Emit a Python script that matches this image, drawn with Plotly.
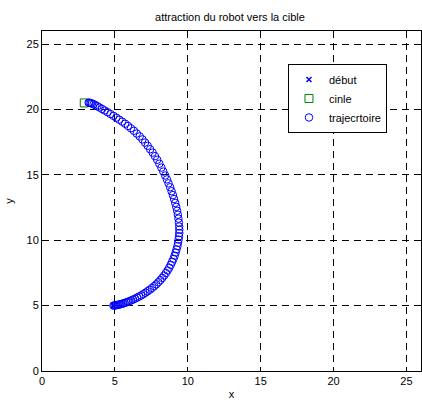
import plotly.graph_objects as go

# Robot start, target and the path it follows toward the target
start_x = [4.9]
start_y = [5.0]

target_x = [2.9]
target_y = [20.5]

traj_x = [4.9, 4.97, 5.05, 5.12, 5.2, 5.28, 5.37, 5.46, 5.56, 5.66, 5.77, 5.88,
          6.0, 6.12, 6.25, 6.38, 6.52, 6.66, 6.8, 6.95, 7.1, 7.25, 7.4, 7.55,
          7.7, 7.84, 7.98, 8.12, 8.25, 8.38, 8.5, 8.62, 8.73, 8.83, 8.93, 9.02,
          9.1, 9.17, 9.23, 9.29, 9.33, 9.37, 9.4, 9.42, 9.42,
          9.41, 9.39, 9.36, 9.32, 9.27, 9.21, 9.14, 9.06, 8.98, 8.89, 8.79, 8.68,
          8.57, 8.45, 8.32, 8.19, 8.05, 7.9, 7.75, 7.59, 7.42, 7.25, 7.07, 6.89,
          6.7, 6.5, 6.3, 6.1, 5.9, 5.7, 5.5, 5.3, 5.1, 4.9, 4.7, 4.5, 4.3, 4.12,
          3.95, 3.8, 3.66, 3.54, 3.43, 3.34, 3.26, 3.2]
traj_y = [5.0, 5.01, 5.02, 5.04, 5.06, 5.08, 5.1, 5.13, 5.16, 5.2, 5.24, 5.29,
          5.34, 5.4, 5.46, 5.53, 5.61, 5.69, 5.78, 5.88, 5.99, 6.1, 6.22, 6.35,
          6.49, 6.63, 6.79, 6.95, 7.12, 7.3, 7.49, 7.69, 7.9, 8.12, 8.35, 8.58,
          8.82, 9.06, 9.3, 9.55, 9.8, 10.05, 10.3, 10.55, 10.8,
          11.05, 11.35, 11.65, 11.95, 12.25, 12.55, 12.85, 13.15, 13.45, 13.75,
          14.05, 14.35, 14.65, 14.95, 15.25, 15.55, 15.85, 16.15, 16.43, 16.7,
          16.96, 17.22, 17.47, 17.71, 17.94, 18.16, 18.37, 18.56, 18.74, 18.91,
          19.07, 19.22, 19.37, 19.51, 19.65, 19.79, 19.92, 20.04, 20.15, 20.25,
          20.33, 20.4, 20.45, 20.49, 20.51, 20.52]

tick_vals = [0, 5, 10, 15, 20, 25]
tick_text = ["0", "5", "10", "15", "20", "25"]

FONT = "Liberation Sans, Arial, sans-serif"

fig = go.Figure()
fig.add_trace(go.Scatter(
    x=start_x, y=start_y, mode="markers", name="début",
    marker=dict(symbol="x-thin", size=5, line=dict(color="#0000ff", width=1.5),
                color="#0000ff"),
))
fig.add_trace(go.Scatter(
    x=target_x, y=target_y, mode="markers", name="cinle",
    marker=dict(symbol="square-open", size=8, color="#008000",
                line=dict(width=1)),
))
fig.add_trace(go.Scatter(
    x=traj_x, y=traj_y, mode="markers", name="trajecrtoire",
    marker=dict(symbol="circle-open", size=7.5, color="#0000ff",
                line=dict(width=1)),
))

axis_common = dict(
    range=[0, 26], tickvals=tick_vals, ticktext=tick_text,
    showgrid=True, gridcolor="#000000", gridwidth=1, griddash="7px,5px",
    zeroline=False, showline=True, linecolor="#000000", linewidth=1,
    mirror="ticks", ticks="inside", ticklen=4, tickcolor="#000000",
    tickfont=dict(family=FONT, size=11, color="#000000"),
)

fig.update_layout(
    width=422, height=403,
    margin=dict(l=42, r=1, t=31, b=32),
    paper_bgcolor="#ffffff", plot_bgcolor="#ffffff",
    title=dict(text="attraction du robot vers la cible", x=0.545, xanchor="center",
               y=0.958, yanchor="middle",
               font=dict(family=FONT, size=11, color="#000000")),
    xaxis=dict(axis_common, title=dict(text="x", standoff=4,
                                       font=dict(family=FONT, size=11, color="#000000"))),
    yaxis=dict(axis_common, title=dict(text="y", standoff=10,
                                       font=dict(family=FONT, size=11, color="#000000"))),
    legend=dict(x=0.649, y=0.903, xanchor="left", yanchor="top",
                bgcolor="#ffffff", bordercolor="#000000", borderwidth=1,
                font=dict(family=FONT, size=11, color="#000000"),
                itemwidth=30, tracegroupgap=0),
    showlegend=True,
)

fig.write_html("out.html")
